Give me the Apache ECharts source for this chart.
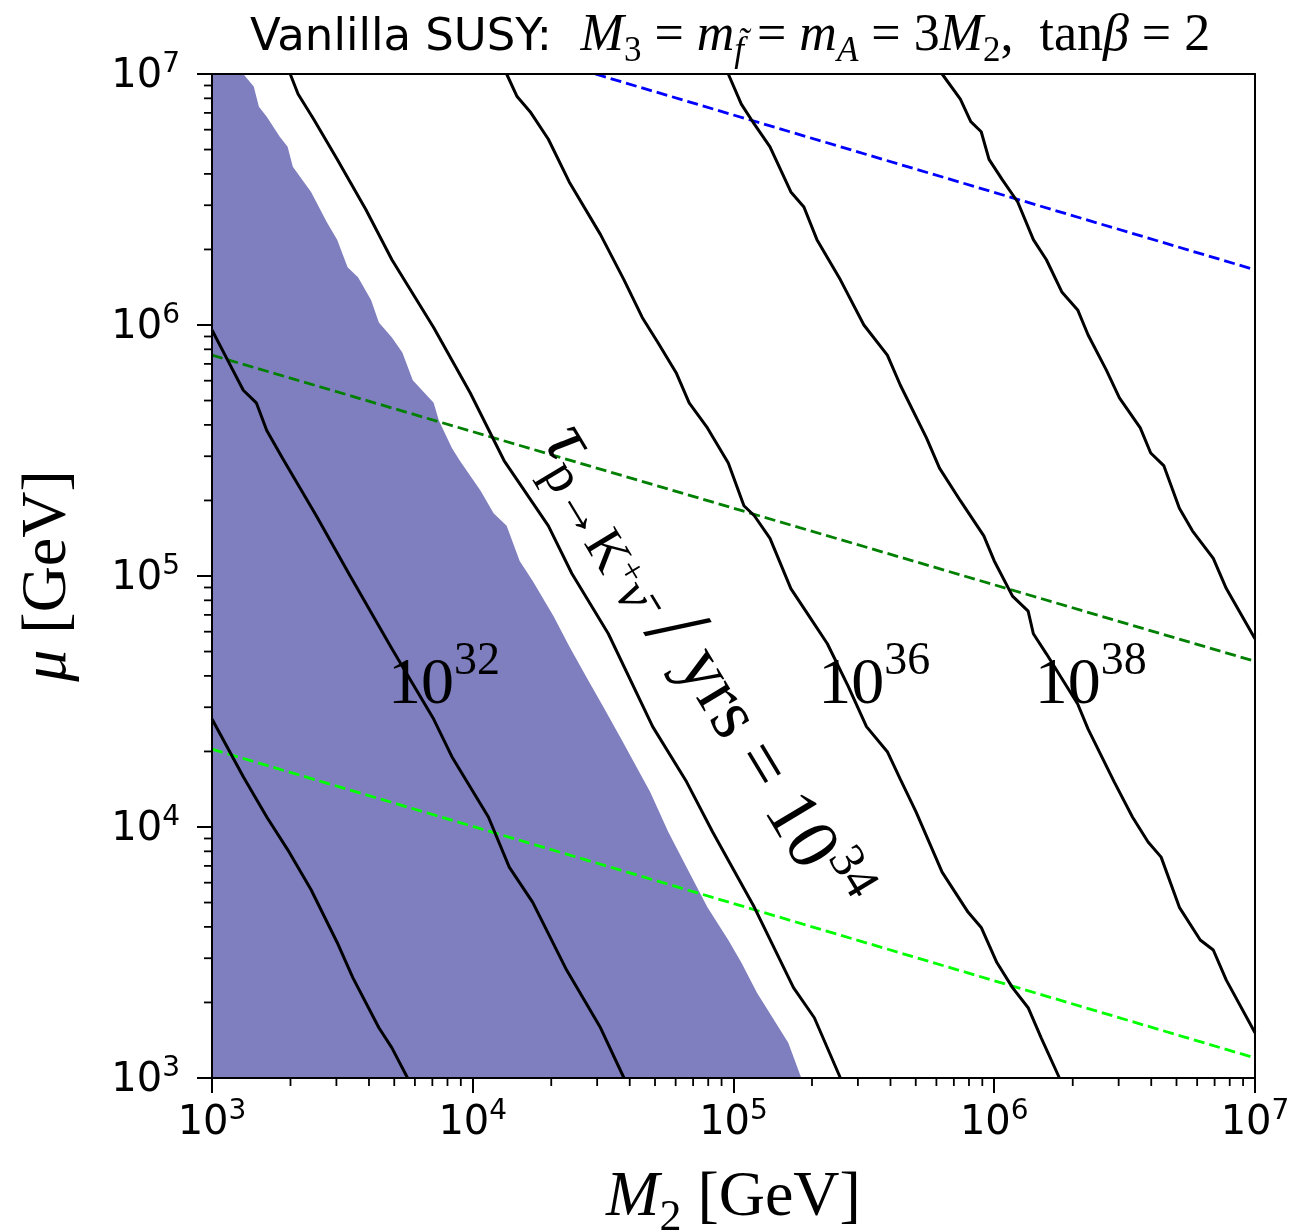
<!DOCTYPE html>
<html>
<head>
<meta charset="utf-8">
<script src="https://cdn.jsdelivr.net/npm/echarts@6/dist/echarts.min.js"></script>
<style>
  html, body { margin: 0; padding: 0; background: #fff; }
  #main { width: 1294px; height: 1232px; }
</style>
</head>
<body>
<div id="main"></div>
<script>
// every point is [log10(M2 / GeV), log10(mu / GeV)]
const contour30 = [[3.00,4.43],[3.12,4.20],[3.21,4.04],[3.29,3.91],[3.38,3.75],[3.48,3.54],[3.54,3.40],[3.64,3.20],[3.69,3.12],[3.75,3.00]];
const contour32 = [[3.00,5.98],[3.06,5.86],[3.12,5.74],[3.17,5.69],[3.21,5.58],[3.27,5.47],[3.40,5.24],[3.53,5.00],[3.69,4.71],[3.85,4.43],[3.92,4.28],[4.06,4.04],[4.14,3.84],[4.23,3.70],[4.36,3.43],[4.49,3.20],[4.58,3.00]];
const contour34 = [[3.30,7.00],[3.33,6.92],[3.39,6.82],[3.48,6.66],[3.59,6.46],[3.69,6.26],[3.85,5.99],[3.99,5.73],[4.12,5.46],[4.29,5.20],[4.38,5.01],[4.52,4.77],[4.69,4.40],[4.82,4.18],[4.92,3.98],[5.08,3.68],[5.23,3.36],[5.31,3.24],[5.41,3.00]];
const contour36 = [[4.13,7.00],[4.17,6.91],[4.22,6.85],[4.29,6.74],[4.37,6.57],[4.49,6.36],[4.58,6.18],[4.65,6.03],[4.71,5.93],[4.78,5.81],[4.83,5.69],[4.90,5.59],[4.98,5.45],[5.04,5.28],[5.08,5.24],[5.14,5.15],[5.22,4.95],[5.29,4.84],[5.36,4.73],[5.44,4.56],[5.51,4.40],[5.59,4.30],[5.64,4.19],[5.70,4.06],[5.80,3.82],[5.90,3.66],[5.95,3.60],[6.01,3.46],[6.07,3.36],[6.13,3.28],[6.18,3.16],[6.25,3.00]];
const contour38 = [[4.98,7.00],[5.03,6.88],[5.08,6.80],[5.14,6.71],[5.22,6.53],[5.27,6.47],[5.32,6.34],[5.41,6.18],[5.50,6.00],[5.59,5.88],[5.64,5.76],[5.74,5.55],[5.79,5.43],[5.87,5.30],[5.96,5.16],[6.00,5.06],[6.07,4.92],[6.13,4.86],[6.15,4.77],[6.20,4.69],[6.32,4.49],[6.36,4.39],[6.46,4.18],[6.53,4.04],[6.59,3.94],[6.64,3.88],[6.71,3.68],[6.79,3.55],[6.84,3.51],[6.89,3.39],[7.00,3.18]];
const contour40 = [[5.80,7.00],[5.87,6.90],[5.91,6.81],[5.95,6.77],[5.98,6.66],[6.03,6.58],[6.09,6.49],[6.15,6.34],[6.20,6.26],[6.26,6.13],[6.32,6.06],[6.36,5.96],[6.43,5.82],[6.48,5.71],[6.56,5.59],[6.60,5.49],[6.65,5.44],[6.71,5.27],[6.76,5.18],[6.84,5.07],[6.89,4.95],[7.00,4.75]];

// excluded (shaded) region: everything below this edge
const shadeEdge = [[3.00,7.00],[3.12,7.00],[3.16,6.95],[3.18,6.87],[3.21,6.83],[3.26,6.75],[3.29,6.71],[3.31,6.63],[3.38,6.53],[3.40,6.49],[3.44,6.41],[3.48,6.34],[3.52,6.23],[3.56,6.19],[3.61,6.10],[3.64,6.01],[3.69,5.95],[3.73,5.89],[3.77,5.78],[3.85,5.69],[3.87,5.62],[3.92,5.51],[3.95,5.46],[4.03,5.34],[4.08,5.25],[4.13,5.20],[4.18,5.06],[4.23,4.98],[4.31,4.84],[4.37,4.72],[4.44,4.59],[4.50,4.48],[4.57,4.35],[4.68,4.14],[4.75,3.98],[4.82,3.84],[4.90,3.68],[4.98,3.55],[5.03,3.46],[5.09,3.34],[5.15,3.24],[5.21,3.14],[5.26,3.00]];

// dashed straight lines
const lineBlue = [[4.47,7.00],[7.00,6.22]];
const lineGreen = [[3.00,5.88],[7.00,4.66]];
const lineLime = [[3.00,4.31],[7.00,3.08]];

// contour labels
const labelExps = [32, 36, 38];
const labelAt = [[3.89,4.59],[5.54,4.59],[6.37,4.59]];
const mainLabelAt = [4.86,4.62];

const axisExps = [3, 4, 5, 6, 7];

const gev = pts => pts.map(p => [Math.pow(10, p[0]), Math.pow(10, p[1])]);
const lo = Math.pow(10, axisExps[0]), hi = Math.pow(10, axisExps[axisExps.length - 1]);

// minor tick positions 2..9 x 10^n
let minors = [];
for (let e = axisExps[0]; e < axisExps[axisExps.length - 1]; e++) {
  for (let k = 2; k <= 9; k++) minors.push(k * Math.pow(10, e));
}

const serif = 'Liberation Serif';
const sans = 'DejaVu Sans';

// one rich-text token style, bottom aligned, raised by pad px
function tok(family, size, pad, italic) {
  return {
    fontFamily: family, fontSize: size, fontWeight: 'normal', fontStyle: italic ? 'italic' : 'normal',
    color: '#000', verticalAlign: 'bottom', padding: [0, 0, pad, 0]
  };
}

function contour(data) {
  return {
    type: 'line', data: gev(data), showSymbol: false, smooth: false, z: 4,
    lineStyle: { color: '#000', width: 3 }, silent: true
  };
}
function dashed(data, color) {
  return {
    type: 'line', data: gev(data), showSymbol: false, z: 3,
    lineStyle: { color: color, width: 2.8, type: [11, 5] }, silent: true
  };
}

const tickRich = { b: tok(sans, 40, 0), s: tok(sans, 28, 18) };
const tickFmt = v => '{b|10}{s|' + Math.round(Math.log10(v)) + '}';

const nameRich = { i: tok(serif, 64, 10, true), d: tok(serif, 44, 0), r: tok(serif, 64, 10) };

const chart = echarts.init(document.getElementById('main'));
chart.setOption({
  animation: false,
  backgroundColor: '#fff',
  title: {
    left: 250, top: 10, padding: 0,
    text: '{s|Vanlilla SUSY:}{s|  }{i|M}{d|3}{r| = }{i|m}{j|f\u0303}{r| = }{i|m}{j|A}{r| = 3}{i|M}{d|2}{r|,  tan}{i|\u03b2}{r| = 2}',
    textStyle: {
      fontWeight: 'normal',
      rich: {
        s: tok(sans, 45, 8),
        i: tok(serif, 52, 7, true),
        r: tok(serif, 52, 7),
        d: tok(serif, 35, 0),
        j: tok(serif, 35, 0, true)
      }
    }
  },
  grid: { left: 212, top: 74, width: 1043, height: 1004, containLabel: false, outerBoundsMode: 'none' },
  xAxis: [{
    type: 'log', logBase: 10, min: lo, max: hi, splitNumber: 4, z: 10,
    axisLine: { lineStyle: { color: '#000', width: 2 } },
    axisTick: { show: true, length: 15, lineStyle: { color: '#000', width: 2 } },
    splitLine: { show: false },
    axisLabel: { margin: 20, formatter: tickFmt, rich: tickRich },
    name: '{i|M}{d|2}{r| [GeV]}', nameLocation: 'middle', nameGap: 88,
    nameTextStyle: { rich: nameRich }
  }, {
    type: 'log', logBase: 10, min: lo, max: hi, position: 'top', z: 10,
    axisLine: { lineStyle: { color: '#000', width: 2 } },
    axisTick: { show: false }, axisLabel: { show: false }, splitLine: { show: false }
  }],
  yAxis: [{
    type: 'log', logBase: 10, min: lo, max: hi, splitNumber: 4, z: 10,
    axisLine: { lineStyle: { color: '#000', width: 2 } },
    axisTick: { show: true, length: 15, lineStyle: { color: '#000', width: 2 } },
    splitLine: { show: false },
    axisLabel: { margin: 32, formatter: tickFmt, rich: tickRich },
    name: '{i|\u03bc}{r| [GeV]}', nameLocation: 'middle', nameGap: 122, nameRotate: 90,
    nameTextStyle: { rich: nameRich }
  }, {
    type: 'log', logBase: 10, min: lo, max: hi, position: 'right', z: 10,
    axisLine: { lineStyle: { color: '#000', width: 2 } },
    axisTick: { show: false }, axisLabel: { show: false }, splitLine: { show: false }
  }],
  series: [
    {
      type: 'line', data: gev(shadeEdge), showSymbol: false, z: 1, silent: true,
      lineStyle: { width: 0, opacity: 0 },
      areaStyle: { origin: 'start', color: '#7f7fbf', opacity: 1 }
    },
    dashed(lineBlue, '#0000ff'),
    dashed(lineGreen, '#008000'),
    dashed(lineLime, '#00ff00'),
    contour(contour30), contour(contour32), contour(contour34),
    contour(contour36), contour(contour38), contour(contour40),
    {
      type: 'scatter', symbolSize: 0, z: 6, silent: true,
      itemStyle: { opacity: 1 },
      data: gev(labelAt),
      label: {
        show: true, position: 'inside', align: 'center', verticalAlign: 'middle',
        color: '#000', textBorderWidth: 0, opacity: 1,
        formatter: p => '{m|10}{e|' + labelExps[p.dataIndex] + '}',
        rich: { m: tok(serif, 66, 0), e: tok(serif, 46, 34) }
      }
    },
    {
      type: 'scatter', symbolSize: 0, z: 6, silent: true,
      itemStyle: { opacity: 1 },
      data: gev([mainLabelAt]),
      label: {
        show: true, position: 'inside', align: 'center', verticalAlign: 'middle', rotate: -59,
        color: '#000', textBorderWidth: 0, opacity: 1,
        formatter: '{t|\u03c4}{p|p\u2192K}{q|+}{v|\u03bd\u0304}{sl| /}{m| yrs = 10}{e|34}',
        rich: {
          t: tok(serif, 76, 22, true),
          p: tok(serif, 54, 10),
          q: tok(serif, 36, 30),
          v: tok(serif, 54, 10, true),
          sl: tok(serif, 96, 6),
          m: tok(serif, 74, 22),
          e: tok(serif, 50, 58)
        }
      }
    },
    {
      // minor ticks on the x axis
      type: 'custom', clip: false, z: 10, silent: true,
      data: minors.map(v => [v, lo]),
      renderItem: (params, api) => {
        const p = api.coord([api.value(0), api.value(1)]);
        return { type: 'line', shape: { x1: p[0], y1: p[1], x2: p[0], y2: p[1] + 8 }, style: { stroke: '#000', lineWidth: 1.8 } };
      }
    },
    {
      // minor ticks on the y axis
      type: 'custom', clip: false, z: 10, silent: true,
      data: minors.map(v => [lo, v]),
      renderItem: (params, api) => {
        const p = api.coord([api.value(0), api.value(1)]);
        return { type: 'line', shape: { x1: p[0] - 8, y1: p[1], x2: p[0], y2: p[1] }, style: { stroke: '#000', lineWidth: 1.8 } };
      }
    }
  ]
});
</script>
</body>
</html>
